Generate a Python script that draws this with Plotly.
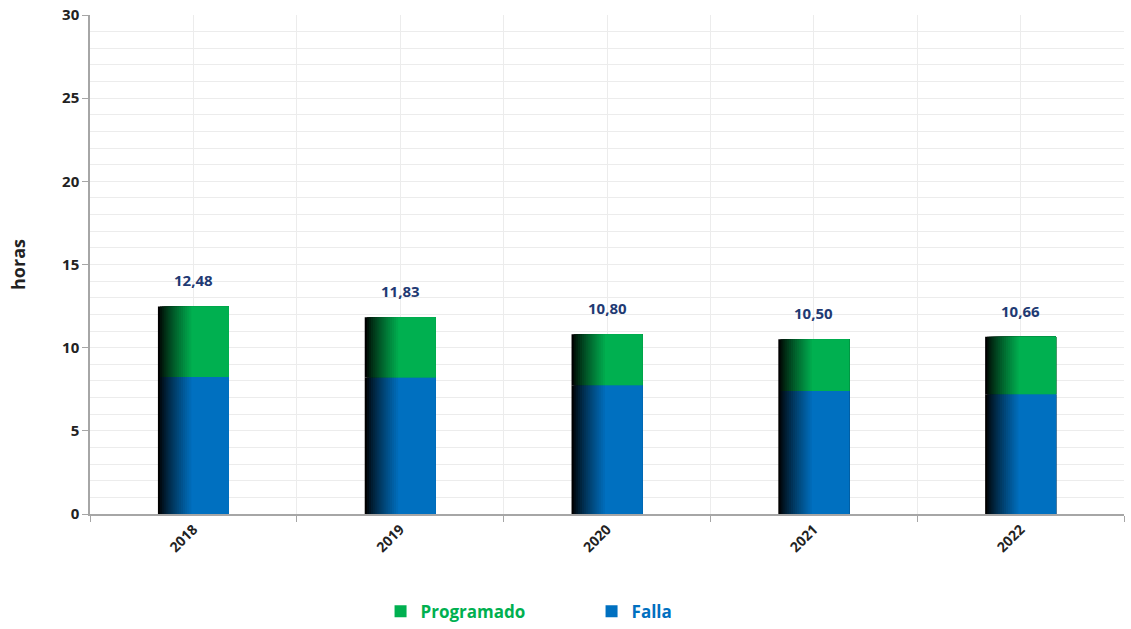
import plotly.graph_objects as go

years = ["2018", "2019", "2020", "2021", "2022"]
falla = [8.24, 8.20, 7.74, 7.40, 7.20]
totals = [12.48, 11.83, 10.80, 10.50, 10.66]
programado = [round(t - f, 2) for t, f in zip(totals, falla)]

GREEN = (0, 176, 80)
BLUE = (0, 112, 192)
BAR_W = 0.343
N = 16
GRAD_FRAC = 0.47

xs = list(range(len(years)))


def mix(c, t):
    return "rgb(%d,%d,%d)" % tuple(int(round(v * t)) for v in c)


fig = go.Figure()
for j in range(N + 1):
    start = -BAR_W / 2 + j * (BAR_W * GRAD_FRAC / N)
    width = BAR_W / 2 - start
    t = min(1.0, j / N)
    t = t ** 0.8
    last = j == N
    fig.add_trace(go.Bar(
        x=xs, y=falla, base=[0] * len(xs), offset=start, width=width,
        marker=dict(color=mix(BLUE, t), line=dict(width=0)),
        name="<b><span style='color:#0070C0'>Falla</span></b>",
        showlegend=last, legendrank=2, hoverinfo="skip"))
    fig.add_trace(go.Bar(
        x=xs, y=programado, base=falla, offset=start, width=width,
        marker=dict(color=mix(GREEN, t), line=dict(width=0)),
        name="<b><span style='color:#00B050'>Programado</span></b>",
        showlegend=last, legendrank=1, hoverinfo="skip"))

for x, tot in zip(xs, totals):
    fig.add_annotation(x=x, y=tot, text="<b>" + f"{tot:.2f}".replace(".", ",") + "</b>",
                       showarrow=False, yshift=26,
                       font=dict(size=15, color="#1F3A73"))

fig.update_layout(
    barmode="overlay",
    width=1131, height=629,
    margin=dict(l=90, r=7, t=15, b=115, autoexpand=False),
    paper_bgcolor="white", plot_bgcolor="white",
    font=dict(family="Open Sans, Lato, sans-serif", size=15, color="#222222"),
    showlegend=True,
    legend=dict(orientation="h", x=0.281, xanchor="left", y=-0.196, yanchor="middle",
                font=dict(size=17), entrywidth=166, itemsizing="constant",
                traceorder="normal"),
    xaxis=dict(range=[-0.5, 4.5], tickvals=xs, ticktext=["<b>%s</b>" % y for y in years],
               tickangle=-45, showgrid=True, gridcolor="#ececec", gridwidth=1,
               showline=True, linecolor="#a6a6a6", linewidth=1.5, zeroline=False,
               ticks="", tickfont=dict(size=14),
               minor=dict(tick0=-0.5, dtick=1, showgrid=True, gridcolor="#ececec",
                          ticks="outside", ticklen=6, tickcolor="#a6a6a6")),
    yaxis=dict(range=[0, 30], dtick=5, showgrid=True, gridcolor="#ececec",
               showline=True, linecolor="#a6a6a6", linewidth=1.5, zeroline=False,
               ticks="outside", ticklen=6, tickcolor="#a6a6a6",
               tickfont=dict(size=15), tickprefix="<b>", ticksuffix="</b>",
               minor=dict(dtick=1, showgrid=True, gridcolor="#ececec"),
               title=dict(text="<b>horas</b>", font=dict(size=18), standoff=32)),
)

fig.write_html("out.html")
